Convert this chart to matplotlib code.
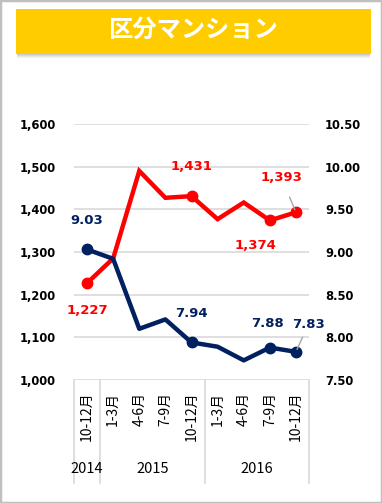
import matplotlib
matplotlib.use('Agg')
import matplotlib.pyplot as plt
from matplotlib.patches import Rectangle
import matplotlib.transforms as mtransforms

plt.rcParams['font.family'] = ['DejaVu Sans']

# data
periods = ['10-12月', '1-3月', '4-6月', '7-9月', '10-12月', '1-3月', '4-6月', '7-9月', '10-12月']
years = ['2014', '2015', '2016']
year_span = [1, 4, 4]
price = [1227, 1285, 1490, 1427, 1431, 1377, 1416, 1374, 1393]      # left axis
yields = [9.03, 8.92, 8.10, 8.21, 7.94, 7.89, 7.73, 7.88, 7.83]     # right axis
labeled = [0, 4, 7, 8]
price_ticks = [1000, 1100, 1200, 1300, 1400, 1500, 1600]
yield_ticks = [7.50, 8.00, 8.50, 9.00, 9.50, 10.00, 10.50]

RED = '#FF0000'
NAVY = '#002060'
GRID = '#D9D9D9'
jp = ['Noto Sans CJK JP', 'DejaVu Sans']

W, H = 382, 503
fig = plt.figure(figsize=(W / 100, H / 100), dpi=100)

# outer border
fig.patches.append(Rectangle((0, 0), 1, 1, transform=fig.transFigure, fill=False,
                             edgecolor='#BFBFBF', lw=2.5, zorder=0))

# title banner with a soft shadow
bx, by, bw, bh = 16 / W, 1 - 54 / H, 355 / W, 45 / H
for i, a in enumerate([0.10, 0.10, 0.12, 0.15]):
    off = (4 - i) / H
    fig.patches.append(Rectangle((bx + 1 / W, by - off), bw - 2 / W, bh, transform=fig.transFigure,
                                 facecolor='#808080', edgecolor='none', alpha=a, zorder=1))
fig.patches.append(Rectangle((bx, by), bw, bh, transform=fig.transFigure,
                             facecolor='#FFCC00', edgecolor='none', zorder=2))
fig.text(193 / W, 1 - 30 / H, '区分マンション', color='white', fontsize=17.5, fontweight='bold',
         family=jp, ha='center', va='center', zorder=3)

ax = fig.add_axes([74 / W, 1 - 380 / H, 235 / W, 256 / H])
x = list(range(len(periods)))

ax.plot(x, price, color=RED, lw=3.2, zorder=3, solid_joinstyle='miter')
ax.plot([x[i] for i in labeled], [price[i] for i in labeled], 'o', color=RED, ms=7.5, zorder=4)
ax.set_xlim(-0.5, len(periods) - 0.5)
ax.set_ylim(1000, 1600)
ax.set_yticks(price_ticks)
ax.set_yticklabels(['{:,}'.format(v) for v in price_ticks], fontweight='bold', fontsize=8.3)
ax.yaxis.grid(True, color=GRID, lw=1.2)
ax.set_axisbelow(True)
for s in ax.spines.values():
    s.set_visible(False)
ax.tick_params(axis='y', length=0, pad=13)
ax.set_xticks(x)
ax.set_xticklabels(periods, rotation=90, fontsize=10, family=jp)
ax.tick_params(axis='x', length=0, pad=8.5)

ax2 = ax.twinx()
ax2.plot(x, yields, color=NAVY, lw=3.2, zorder=3)
ax2.plot([x[i] for i in labeled], [yields[i] for i in labeled], 'o', color=NAVY, ms=7.5, zorder=4)
ax2.set_ylim(7.5, 10.5)
ax2.set_yticks(yield_ticks)
ax2.set_yticklabels(['{:.2f}'.format(v) for v in yield_ticks], fontweight='bold', fontsize=8.3)
ax2.tick_params(axis='y', length=0, pad=11.5)
for s in ax2.spines.values():
    s.set_visible(False)

# data labels (offsets in points)
lead = dict(arrowstyle='-', color='#A6A6A6', lw=1, shrinkA=8, shrinkB=2)
red_off = {0: (0, -19.5), 4: (0, 21), 7: (-10.5, -18), 8: (-10.5, 25)}
for i, (dx, dy) in red_off.items():
    ax.annotate('{:,}'.format(price[i]), (x[i], price[i]), xytext=(dx, dy), textcoords='offset points',
                ha='center', va='center', color=RED, fontsize=9.5, fontweight='bold',
                arrowprops=lead if i == 8 else None, zorder=5)
navy_off = {0: (0, 21), 4: (0, 21), 7: (-2, 17), 8: (9, 20)}
for i, (dx, dy) in navy_off.items():
    ax2.annotate('{:.2f}'.format(yields[i]), (x[i], yields[i]), xytext=(dx, dy), textcoords='offset points',
                 ha='center', va='center', color=NAVY, fontsize=9.5, fontweight='bold',
                 arrowprops=dict(lead, shrinkA=3) if i == 8 else None, zorder=5)

# year level of the category axis
trans = mtransforms.blended_transform_factory(ax.transData, ax.transAxes)
bounds = [-0.5]
for n in year_span:
    bounds.append(bounds[-1] + n)
for b in bounds:
    ax.plot([b, b], [0, -0.402], transform=trans, clip_on=False, color=GRID, lw=1.2)
for yr, a, b in zip(years, bounds[:-1], bounds[1:]):
    ax.text((a + b) / 2, -0.348, yr, transform=trans, ha='center', va='center', fontsize=10.5, family=jp)

fig.savefig('out.png', dpi=100)
